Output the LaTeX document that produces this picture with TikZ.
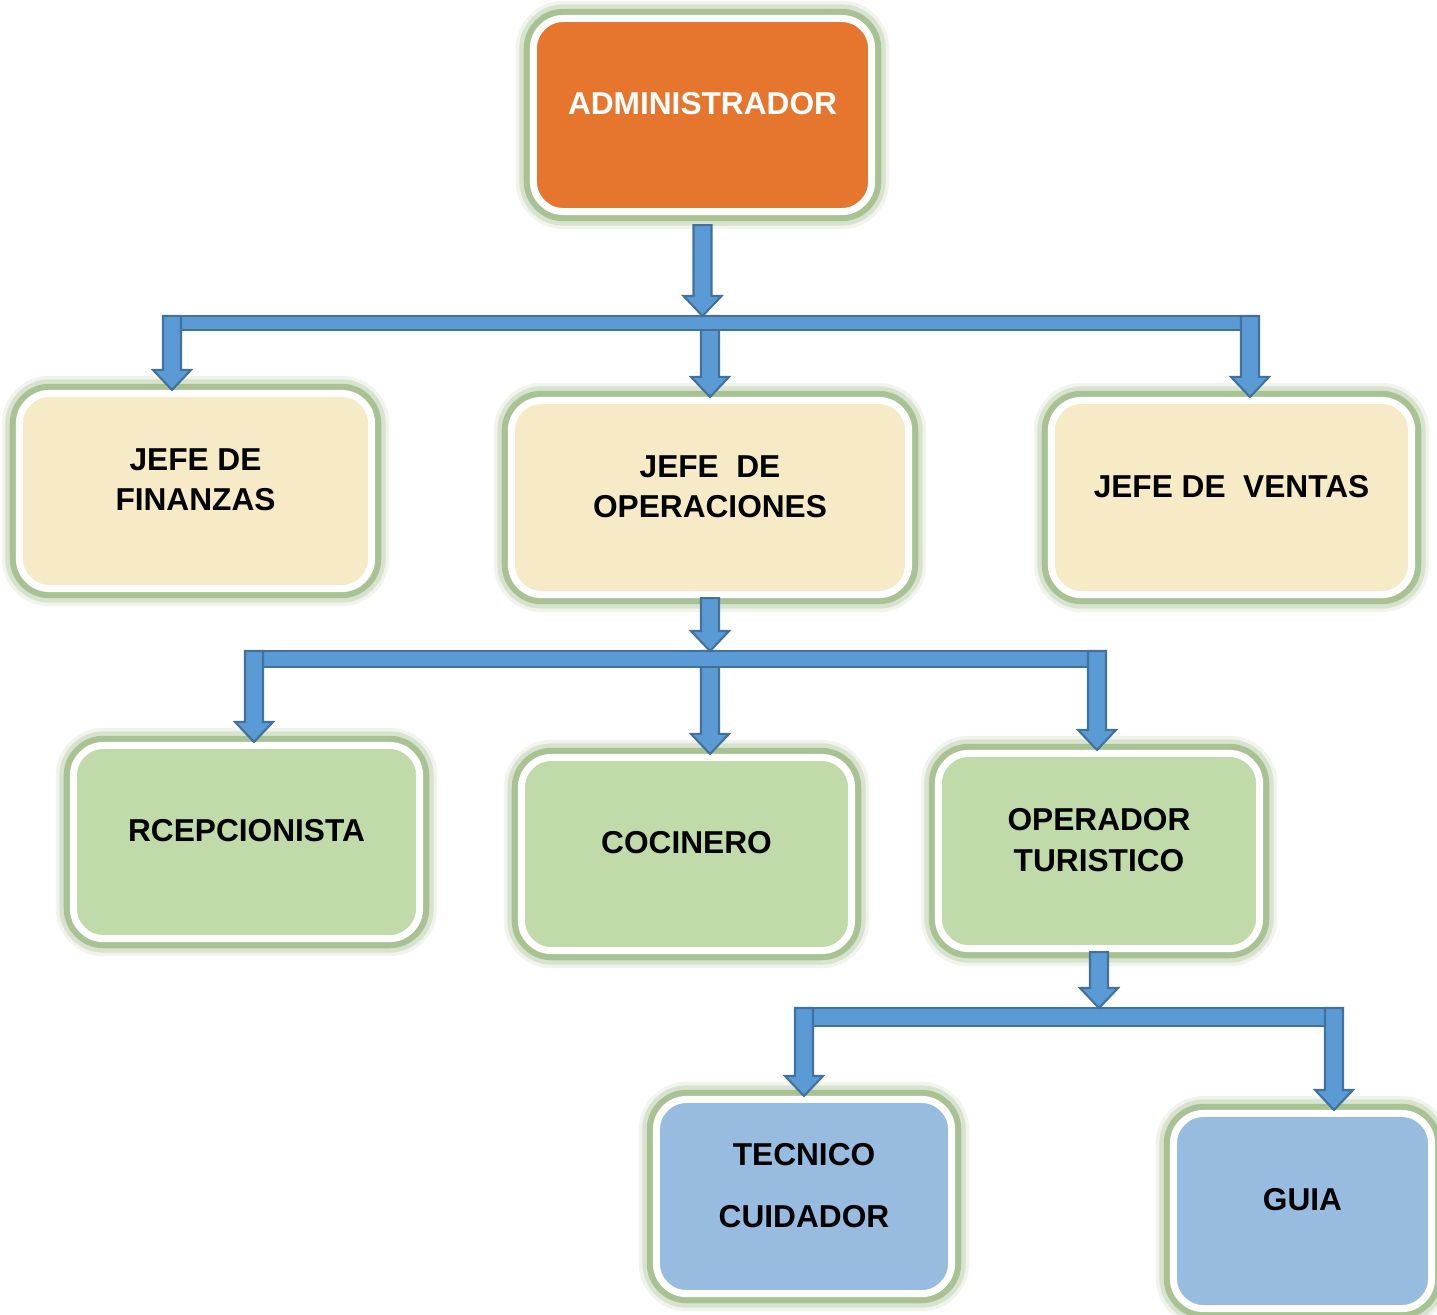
\documentclass[tikz,border=0pt]{standalone}
\usepackage{fontspec}
\setmainfont{Liberation Sans}
\usetikzlibrary{calc}

\definecolor{adminorange}{RGB}{230,118,46}
\definecolor{jefebeige}{RGB}{247,234,198}
\definecolor{staffgreen}{RGB}{192,218,170}
\definecolor{guiablue}{RGB}{152,188,224}
\definecolor{glowgreen}{RGB}{112,155,76}
\definecolor{arrowfill}{RGB}{91,155,213}
\definecolor{arrowedge}{RGB}{65,113,156}

\tikzset{
    orgbox/.style={rounded corners=0.3cm, draw=white, line width=2pt,
        preaction={draw=glowgreen, line width=10pt, draw opacity=0.1},
        preaction={draw=glowgreen, line width=8pt, draw opacity=0.18},
        preaction={draw=glowgreen, line width=5.5pt, draw opacity=0.45}},
    boxtext/.style={font=\bfseries\fontsize{9}{11.5}\selectfont, align=center, yshift=0.11cm},
    busbar/.style={draw=arrowedge, fill=arrowfill, line width=0.6pt},
    blockarrow/.style={draw=arrowedge, fill=arrowfill, line width=0.6pt,
        to path={let \p1=(\tikztostart), \p2=(\tikztotarget) in
            (\x1-0.09cm,\y1) -- (\x1-0.09cm,\y2+0.2cm) -- (\x1-0.19cm,\y2+0.2cm) -- (\x1,\y2)
            -- (\x1+0.19cm,\y2+0.2cm) -- (\x1+0.09cm,\y2+0.2cm) -- (\x1+0.09cm,\y1) -- cycle}}
}

\begin{document}
\begin{tikzpicture}[x=0.01cm,y=-0.01cm]
    \path[use as bounding box, fill=white] (0,0) rectangle (1437,1314);

    % boxes
    \node[orgbox, fill=adminorange, minimum width=3.38cm, minimum height=1.93cm,
        label={[boxtext,text=white]center:ADMINISTRADOR}] (admin) at (702.5,115) {};
    \node[orgbox, fill=jefebeige, minimum width=3.52cm, minimum height=1.95cm,
        label={[boxtext]center:{JEFE DE\\FINANZAS}}] (fin) at (195.5,491) {};
    \node[orgbox, fill=jefebeige, minimum width=3.97cm, minimum height=1.94cm,
        label={[boxtext]center:{JEFE\ \ DE\\OPERACIONES}}] (ops) at (710,497.5) {};
    \node[orgbox, fill=jefebeige, minimum width=3.60cm, minimum height=1.94cm,
        label={[boxtext]center:{JEFE DE\ \ VENTAS}}] (ventas) at (1231.5,497.5) {};
    \node[orgbox, fill=staffgreen, minimum width=3.46cm, minimum height=1.93cm,
        label={[boxtext]center:RCEPCIONISTA}] (recep) at (246.5,842) {};
    \node[orgbox, fill=staffgreen, minimum width=3.30cm, minimum height=1.93cm,
        label={[boxtext]center:COCINERO}] (coci) at (686.5,854) {};
    \node[orgbox, fill=staffgreen, minimum width=3.21cm, minimum height=1.95cm,
        label={[boxtext]center:{OPERADOR\\TURISTICO}}] (operador) at (1099,851) {};
    \node[orgbox, fill=guiablue, minimum width=2.95cm, minimum height=1.94cm,
        label={[boxtext]center:{TECNICO\\[6pt]CUIDADOR}}] (tecnico) at (804,1196.5) {};
    \node[orgbox, fill=guiablue, minimum width=2.58cm, minimum height=1.95cm,
        label={[boxtext]center:GUIA}] (guia) at (1302.5,1211) {};

    % buses
    \coordinate (b1w) at (172,316);
    \coordinate (b1e) at (1250,316);
    \coordinate (b2w) at (254,651);
    \coordinate (b2e) at (1097,651);
    \coordinate (b3w) at (804,1008);
    \coordinate (b3e) at (1334,1008);

    % level 1
    \draw[blockarrow] (b1w -| ops.north) to (ops.north);
    \draw[busbar] ([xshift=-0.09cm]b1w) rectangle ([xshift=0.09cm,yshift=-0.14cm]b1e);
    \draw[blockarrow] (b1w) to (fin.north -| b1w);
    \draw[blockarrow] (b1e) to (ventas.north -| b1e);
    \draw[blockarrow] ([yshift=-0.1cm]admin.south) to (admin.south |- b1w);

    % level 2
    \draw[blockarrow] (b2w -| ops.south) to (coci.north -| ops.south);
    \draw[busbar] ([xshift=-0.09cm]b2w) rectangle ([xshift=0.09cm,yshift=-0.16cm]b2e);
    \draw[blockarrow] (b2w) to (recep.north -| b2w);
    \draw[blockarrow] (b2e) to (operador.north -| b2e);
    \draw[blockarrow] (ops.south) to (ops.south |- b2w);

    % level 3
    \draw[busbar] ([xshift=-0.09cm]b3w) rectangle ([xshift=0.09cm,yshift=-0.18cm]b3e);
    \draw[blockarrow] (b3w) to (tecnico.north -| b3w);
    \draw[blockarrow] (b3e) to (guia.north -| b3e);
    \draw[blockarrow] (operador.south) to (operador.south |- b3w);
\end{tikzpicture}
\end{document}
